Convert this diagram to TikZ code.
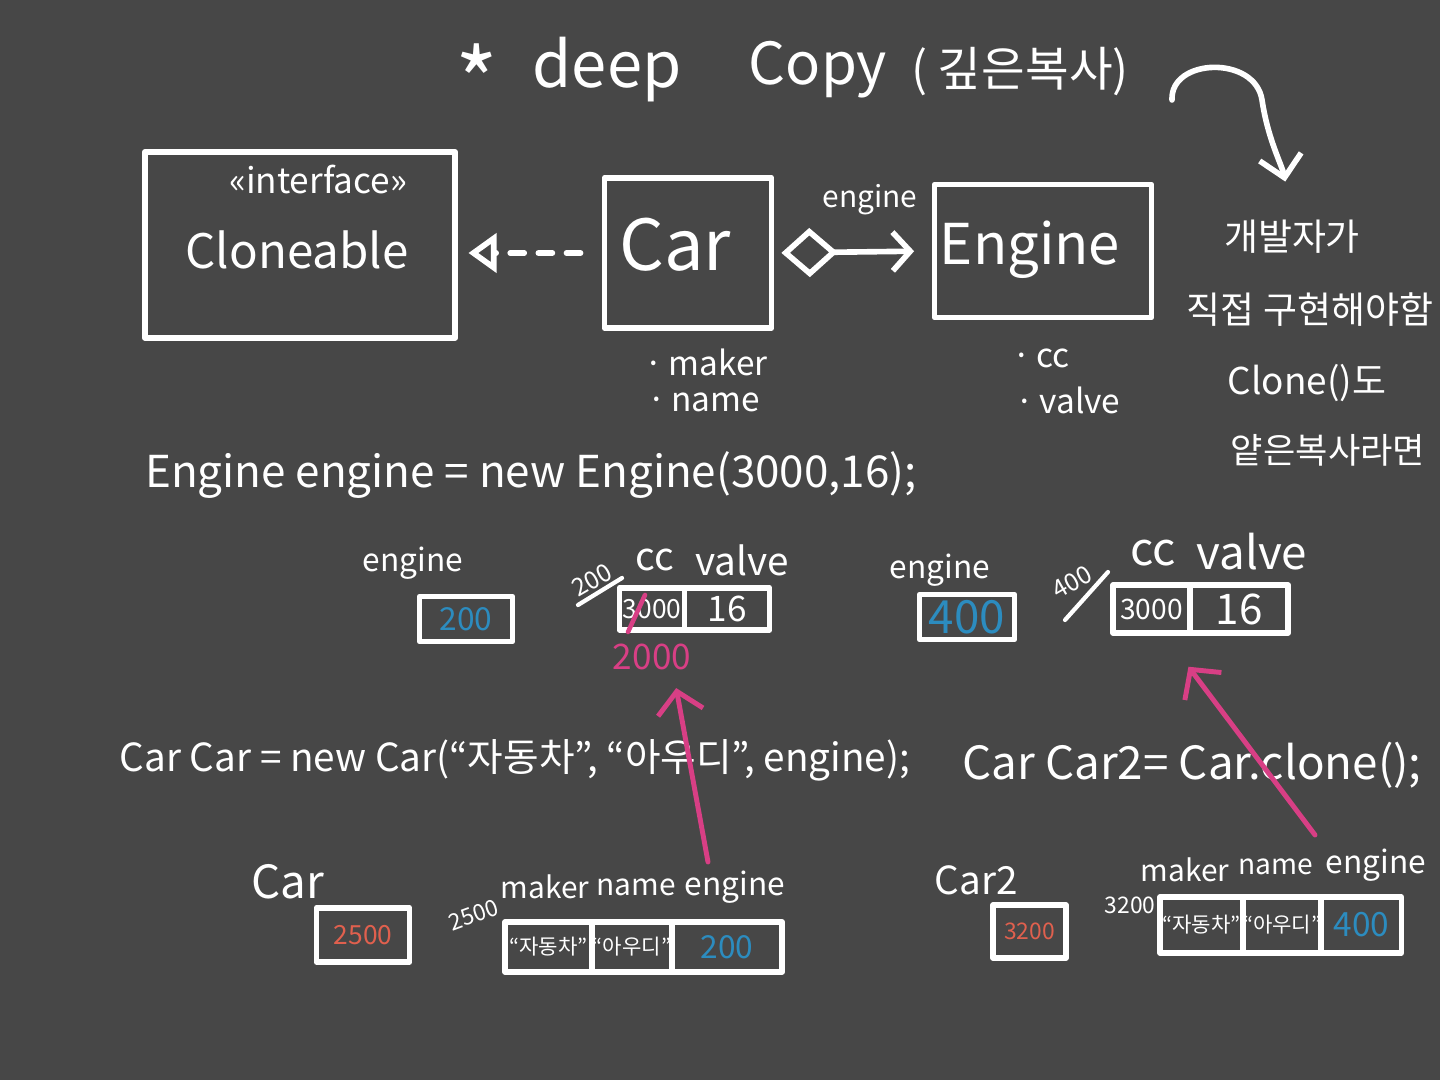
\documentclass[tikz,border=0pt]{standalone}
\usepackage{fontspec}
\setmainfont{Noto Sans CJK KR}
\usetikzlibrary{arrows.meta,positioning,calc}
\definecolor{board}{HTML}{474747}
\definecolor{memo}{HTML}{D83F85}
\definecolor{refblue}{HTML}{2C8CBF}
\definecolor{addr}{HTML}{E0604E}

\begin{document}
\begin{tikzpicture}[x=0.01cm,y=-0.01cm,line join=round,line cap=round,
    every node/.style={text=white,inner sep=1pt},
    chalk/.style={draw=white,line width=1.6pt},
    objbox/.style={chalk,rectangle,inner sep=0pt},
    cell/.style={chalk,rectangle,inner sep=0pt,outer sep=0pt},
    fs/.style={font={\fontsize{#1}{#1}\selectfont}},
    pinkarrow/.style={draw=memo,line width=1.4pt,-{Straight Barb[length=6pt,width=13pt]}}]

      % board
      \fill[board] (0,0) rectangle (1440,1080);
      \useasboundingbox (0,0) rectangle (1440,1080);

      % title
      \node[fs=26] (star) at (477,80) {*};
      \node[fs=18] (deep) at (607,70) {deep};
      \node[fs=16.5] (copy) at (818,70) {Copy};
      \node[fs=13.5] (krTitle) at (1020,72) {( 깊은복사)};

      % class diagram
      \node[objbox,minimum width=3.1cm,minimum height=1.86cm] (cloneBox) at (300,245) {};
      \node[fs=10] (iface) at (318,180) {«interface»};
      \node[fs=13.5] (cloneName) at (297,250) {Cloneable};

      \node[objbox,minimum width=1.67cm,minimum height=1.5cm] (carBox) at (688,253) {};
      \node[fs=20] (carName) at (675,245) {Car};

      \node[objbox,minimum width=2.17cm,minimum height=1.33cm] (engineBox) at (1043,251) {};
      \node[fs=16] (engineName) at (1030,250) {Engine};

      \draw[chalk,dash pattern=on 4pt off 4pt,-{Triangle[open,length=8pt,width=11pt]},
            shorten <=6pt,shorten >=3pt] (carBox.west) -- (carBox.west -| cloneBox.east);
      \draw[chalk,{Diamond[open,length=16pt,width=14pt]}-{Straight Barb[length=5pt,width=11pt]},
            shorten <=2pt,shorten >=5pt] (carBox.east) -- (engineBox.west);
      \node[fs=8.5] (aggLbl) at (870,200) {engine};

      \node[fs=9.5,anchor=west] (attrMaker) at (640,362) {·\,maker};
      \node[fs=9.5,anchor=west] (attrName) at (643,402) {·\,name};
      \node[fs=9.5,anchor=west] (attrCc) at (1008,358) {·\,cc};
      \node[fs=9.5,anchor=west] (attrValve) at (1011,400) {·\,valve};

      % note on the right
      \node[fs=10.5] (note1) at (1292,237) {개발자가};
      \node[fs=10.5] (note2) at (1310,310) {직접 구현해야함};
      \node[fs=10.5] (note3) at (1307,383) {Clone()도};
      \node[fs=10] (note4) at (1328,450) {얕은복사라면};
      \coordinate (curlStart) at (1172,100);
      \draw[chalk,-{Straight Barb[length=6pt,width=12pt]},shorten >=10pt]
        (curlStart) .. controls (1170,58) and (1255,55) .. (1262,100)
        .. controls (1268,140) and (1282,165) .. (note1.north);

      % engine object
      \node[fs=12.5] (codeEngine) at (531,475) {Engine engine = new Engine(3000,16);};

      \node[fs=9] (engLblA) at (413,563) {engine};
      \node[objbox,minimum width=0.93cm,minimum height=0.45cm,fs=9,text=refblue] (engRefA) at (466,619) {200};
      \node[fs=7,rotate=30] (addrA) at (592,580) {200};
      \draw[chalk,line width=1.2pt] (578,605) -- (622,578);
      \node[fs=11] (ccA) at (655,560) {cc};
      \node[fs=11] (valveA) at (742,560) {valve};
      \node[cell,minimum width=0.65cm,minimum height=0.42cm,fs=7.5] (ccCellA) at (652,609) {3000};
      \node[cell,minimum width=0.85cm,minimum height=0.42cm,fs=10,right=0pt of ccCellA] (valveCellA) {16};
      \draw[memo,line width=1.3pt] (628,632) -- (645,595);
      \node[fs=10,text=memo] (ccNew) at (652,657) {2000};

      \node[fs=9] (engLblB) at (940,570) {engine};
      \node[objbox,minimum width=0.95cm,minimum height=0.45cm,fs=13,text=refblue] (engRefB) at (967,617) {400};
      \node[fs=7,rotate=30] (addrB) at (1072,582) {400};
      \draw[chalk,line width=1.2pt] (1065,620) -- (1108,572);
      \node[fs=13] (ccB) at (1153,553) {cc};
      \node[fs=13] (valveB) at (1252,552) {valve};
      \node[cell,minimum width=0.77cm,minimum height=0.48cm,fs=8] (ccCellB) at (1151.5,609) {3000};
      \node[cell,minimum width=0.98cm,minimum height=0.48cm,fs=12,right=0pt of ccCellB] (valveCellB) {16};

      % car objects
      \node[fs=11] (codeCar) at (515,760) {Car Car = new Car(“자동차”, “아우디”, engine);};
      \node[fs=13] (codeClone) at (1192,765) {Car Car2= Car.clone();};

      \node[fs=13] (carLbl) at (288,882) {Car};
      \node[objbox,minimum width=0.93cm,minimum height=0.54cm,fs=7.5,text=addr] (carRef) at (363,935) {2500};
      \node[fs=6.5,rotate=20] (addrC) at (474,915) {2500};
      \node[fs=8.5] (makerA) at (545,887) {maker};
      \node[fs=8.5] (nameA) at (636,887) {name};
      \node[fs=9] (engineA) at (735,887) {engine};
      \node[cell,minimum width=0.87cm,minimum height=0.5cm,fs=6] (makerCellA) at (548.5,947) {“자동차”};
      \node[cell,minimum width=0.8cm,minimum height=0.5cm,fs=6,right=0pt of makerCellA] (nameCellA) {“아우디”};
      \node[cell,minimum width=1.1cm,minimum height=0.5cm,fs=9,text=refblue,right=0pt of nameCellA] (engineCellA) {200};

      \node[fs=11] (car2Lbl) at (976,880) {Car2};
      \node[objbox,minimum width=0.73cm,minimum height=0.53cm,fs=6.5,text=addr] (car2Ref) at (1029.5,931.5) {3200};
      \node[fs=6.5] (addrD) at (1130,905) {3200};
      \node[fs=8.5] (makerB) at (1185,870) {maker};
      \node[fs=8] (nameB) at (1276,867) {name};
      \node[fs=9] (engineB) at (1376,865) {engine};
      \node[cell,minimum width=0.83cm,minimum height=0.56cm,fs=6] (makerCellB) at (1201.5,925) {“자동차”};
      \node[cell,minimum width=0.72cm,minimum height=0.56cm,fs=6,right=0pt of makerCellB] (nameCellB) {“아우디”};
      \node[cell,minimum width=0.8cm,minimum height=0.56cm,fs=9.5,text=refblue,right=0pt of nameCellB] (engineCellB) {400};

      % shared engine pointers
      \coordinate (tailA) at (708,862);
      \draw[pinkarrow,shorten >=4pt] (tailA) -- ($(ccNew.south)!0.5!(ccNew.south east)$);
      \coordinate (tailB) at (1315,835);
      \draw[pinkarrow,shorten >=12pt] (tailB) -- ($(ccCellB.south)!0.3!(ccCellB.south east)$);
    \end{tikzpicture}
\end{document}
